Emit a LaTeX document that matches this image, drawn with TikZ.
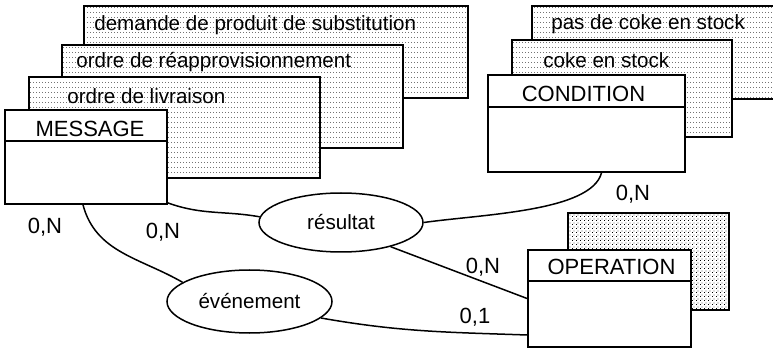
\documentclass[tikz,border=0pt]{standalone}
\usepackage{fontspec}
\setmainfont{Liberation Sans}
\usetikzlibrary{shapes.geometric,patterns.meta}

\tikzdeclarepattern{
  name=dotrows,
  type=uncolored,
  bounding box={(0pt,0pt) and (3pt,5pt)},
  tile size={(3pt,5pt)},
  code={\fill (0pt,0pt) rectangle (1pt,0.9pt);}
}
\tikzdeclarepattern{
  name=dotgrid,
  type=uncolored,
  bounding box={(0pt,0pt) and (4pt,4pt)},
  tile size={(4pt,4pt)},
  code={\fill (0pt,0pt) rectangle (1pt,1pt); \fill (2pt,2pt) rectangle (3pt,3pt);}
}

\begin{document}
\begin{tikzpicture}[x=1pt,y=1pt,
  sh/.style={draw,line width=1.8pt,preaction={fill=white},pattern=dotrows,pattern color=black!55,inner sep=0pt},
  cl/.style={draw,line width=1.8pt,fill=white,inner sep=0pt},
  rel/.style={ellipse,draw,line width=1.5pt,fill=white,inner sep=0pt,font=\fontsize{20.6}{24}\selectfont},
  txt/.style={inner sep=0pt,font=\fontsize{20.6}{24}\selectfont},
  big/.style={inner sep=0pt,font=\fontsize{22}{26}\selectfont},
  ln/.style={line width=1.5pt}]
  \useasboundingbox (0,0) rectangle (773,348);
  % pile MESSAGE
  \node[sh,minimum width=384pt,minimum height=92pt] (subst) at (276,296) {};
  \node[txt,anchor=west] (substT) at ([xshift=11pt,yshift=-20pt]subst.north west) {demande de produit de substitution};
  \node[sh,minimum width=341pt,minimum height=103pt] (reap) at (232.5,251.5) {};
  \node[txt,anchor=west] (reapT) at ([xshift=15pt,yshift=-18pt]reap.north west) {ordre de réapprovisionnement};
  \node[sh,minimum width=291pt,minimum height=101pt] (livr) at (174.5,220.5) {};
  \node[txt,anchor=west] (livrT) at ([xshift=39pt,yshift=-20pt]livr.north west) {ordre de livraison};
  \node[cl,minimum width=162pt,minimum height=94pt] (msg) at (86,191) {};
  \node[big] (msgT) at ([xshift=4pt,yshift=-20pt]msg.north) {MESSAGE};
  % pile CONDITION
  \node[sh,minimum width=258pt,minimum height=93pt] (pas) at (661,295.5) {};
  \node[txt,anchor=west] (pasT) at ([xshift=20pt,yshift=-19pt]pas.north west) {pas de coke en stock};
  \node[sh,minimum width=220pt,minimum height=97pt] (coke) at (622,259.5) {};
  \node[txt,anchor=west] (cokeT) at ([xshift=32pt,yshift=-21pt]coke.north west) {coke en stock};
  \node[cl,minimum width=197pt,minimum height=97pt] (cond) at (586.5,224.5) {};
  \node[big] (condT) at ([xshift=-3pt,yshift=-20pt]cond.north) {CONDITION};
  % pile OPERATION
  \node[sh,pattern=dotgrid,pattern color=black,minimum width=161pt,minimum height=97pt] (operB) at (648.5,86.5) {};
  \node[cl,minimum width=163pt,minimum height=97pt] (oper) at (609.5,49.5) {};
  \node[big] (operT) at ([xshift=2pt,yshift=-18pt]oper.north) {OPERATION};
  \foreach \n/\d in {msg/32,cond/33,oper/32}{\draw[line width=1.8pt] ([yshift=-\d pt]\n.north west) -- ([yshift=-\d pt]\n.north east);}
  % relations
  \node[rel,minimum width=164pt,minimum height=59pt] (res) at (341,125.5) {résultat};
  \node[rel,minimum width=165pt,minimum height=63pt] (evt) at (249.5,46.5) {événement};
  \draw[ln] ([yshift=2pt]msg.south east) to[out=-20,in=170] (res.176);
  \draw[ln] ([xshift=-3pt]msg.south) to[out=-75,in=150] (evt.164);
  \draw[ln] ([xshift=15pt]cond.south) to[out=-105,in=8,out distance=40pt,in distance=60pt] (res.east);
  \draw[ln] (res.-26) -- (oper.west);
  \draw[ln] (evt.-13) to[out=-10,in=178] ([yshift=-36.5pt]oper.west);
  % cardinalites
  \node[big] (cme) at (45,121) {0,N};
  \node[big] (cmr) at (163,116) {0,N};
  \node[big] (ccr) at (633,154) {0,N};
  \node[big] (cor) at (483,81) {0,N};
  \node[big] (coe) at (475,31) {0,1};
\end{tikzpicture}
\end{document}
